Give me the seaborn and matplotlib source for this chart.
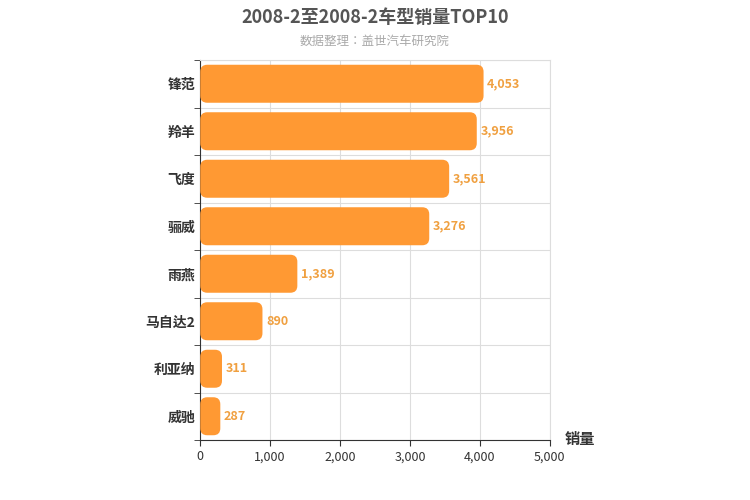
import matplotlib
matplotlib.use("Agg")
import matplotlib.pyplot as plt
from matplotlib import font_manager as fm
import seaborn as sns
import pandas as pd
from matplotlib.patches import FancyBboxPatch

cjk = [f.name for f in fm.fontManager.ttflist if "CJK" in f.name]
pref = [n for n in cjk if n.endswith("SC")] or cjk
plt.rcParams["font.family"] = "sans-serif"
plt.rcParams["font.sans-serif"] = (pref[:1] if pref else []) + ["DejaVu Sans"]

models = ["锋范", "羚羊", "飞度", "骊威", "雨燕", "马自达2", "利亚纳", "威驰"]
sales = [4053, 3956, 3561, 3276, 1389, 890, 311, 287]
xticks = [0, 1000, 2000, 3000, 4000, 5000]

df = pd.DataFrame({"model": models, "sales": sales})
fig = plt.figure(figsize=(7.5, 5), dpi=100)
ax = fig.add_axes([0.267, 0.12, 0.466, 0.76])
sns.barplot(data=df, x="sales", y="model", ax=ax, color="#FF9933", width=0.8, saturation=1)

aspect = (8 / 380) / (5000 / 350)
for p in list(ax.patches):
    x, y, w, h = p.get_x(), p.get_y(), p.get_width(), p.get_height()
    p.remove()
    ax.add_patch(FancyBboxPatch((x, y), w, h, boxstyle="round,pad=0,rounding_size=100",
                                mutation_aspect=aspect, fc="#FF9933", ec="none", zorder=3))
for i, v in enumerate(sales):
    ax.text(v + 50, i, f"{v:,}", va="center", ha="left", color="#F0A040", fontsize=9, fontweight="bold")

ax.set_xlim(0, 5000)
ax.set_ylim(7.5, -0.5)
ax.set_xticks(xticks)
ax.set_xticklabels([f"{t:,}" for t in xticks], fontsize=9, color="#333")
ax.grid(True, axis="x", color="#dddddd", linewidth=0.8, zorder=0)
ax.set_axisbelow(True)
ax.set_yticks(range(len(models)))
ax.set_yticks([i + 0.5 for i in range(-1, len(models))], minor=True)
ax.grid(True, axis="y", which="minor", color="#dddddd", linewidth=0.8)
ax.tick_params(axis="y", which="major", length=0, labelsize=10, labelcolor="#333")
ax.tick_params(axis="y", which="minor", length=4, color="#333")
ax.tick_params(axis="x", length=4, color="#333")
for lab in ax.get_yticklabels():
    lab.set_fontweight("bold")
ax.set_xlabel("")
ax.set_ylabel("")
for s in ["top", "right"]:
    ax.spines[s].set_color("#dddddd")
ax.spines["bottom"].set_color("#333")
ax.spines["left"].set_color("#333")
fig.text(0.5, 0.965, "2008-2至2008-2车型销量TOP10", ha="center", va="center",
         fontsize=13, fontweight="bold", color="#555")
fig.text(0.5, 0.918, "数据整理：盖世汽车研究院", ha="center", va="center", fontsize=9, color="#aaa")
fig.text(0.753, 0.122, "销量", ha="left", va="center", fontsize=11, fontweight="bold", color="#333")
fig.savefig("out.png", dpi=100)
